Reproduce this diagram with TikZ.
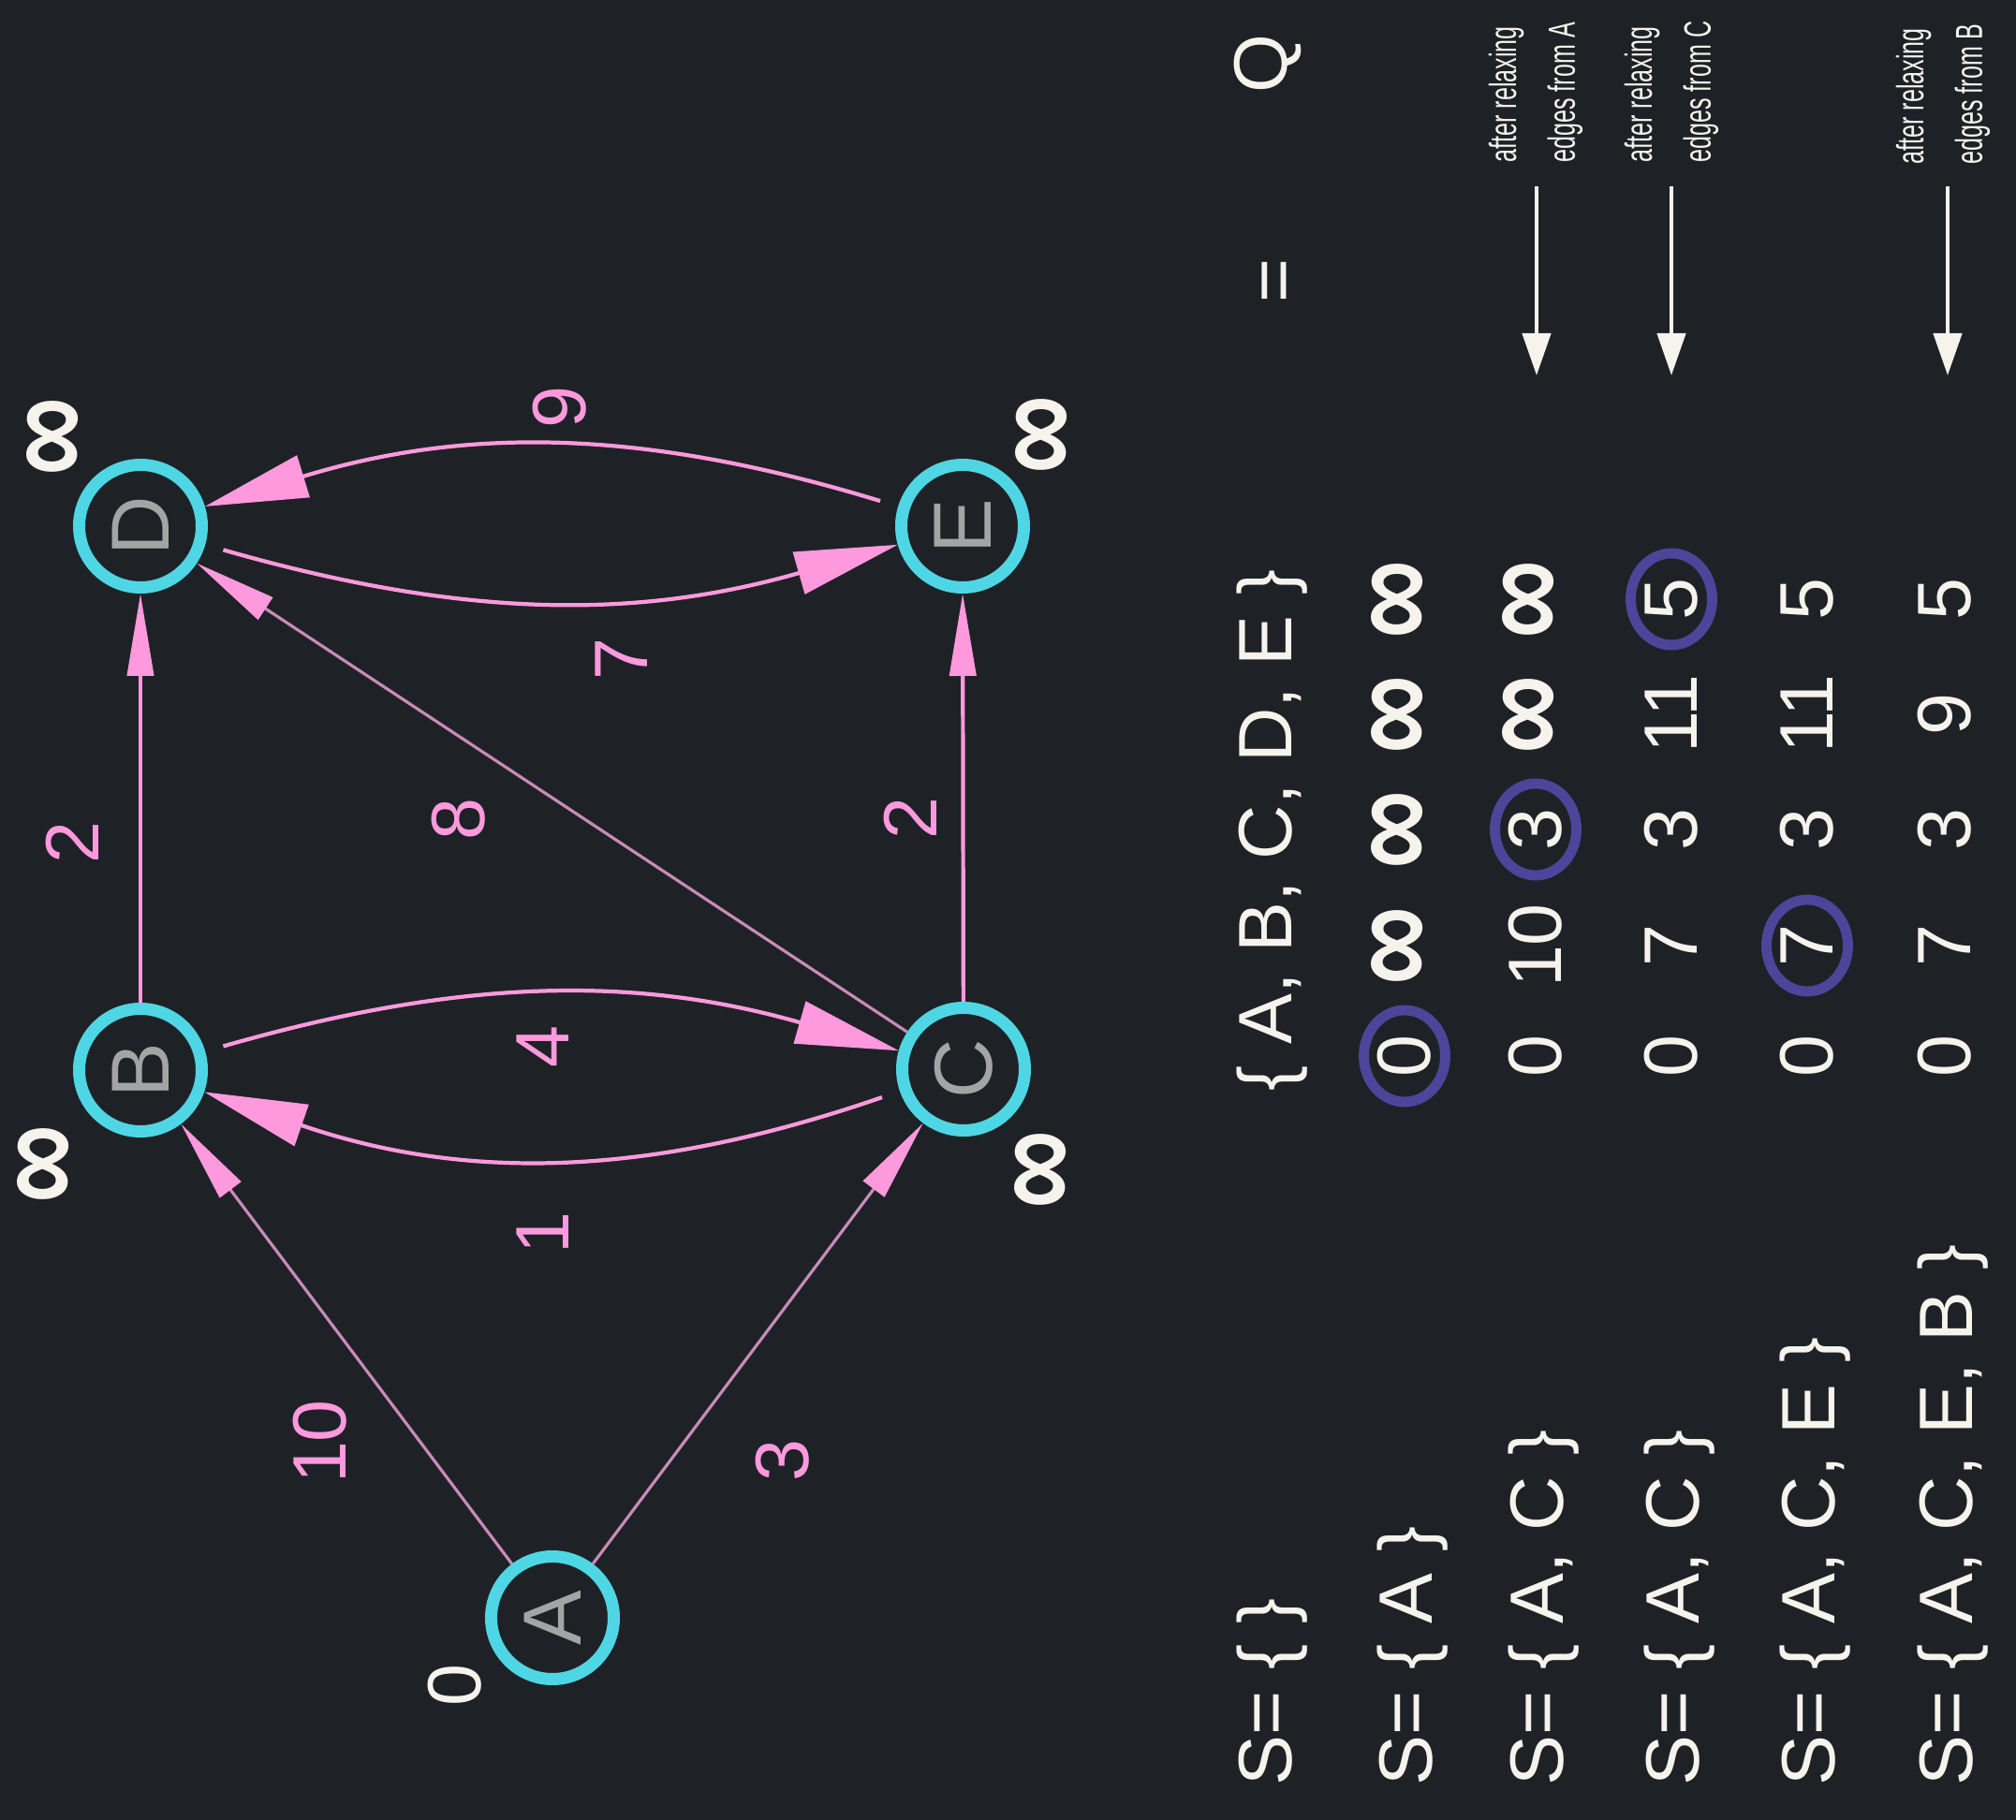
\documentclass[tikz,border=0pt]{standalone}
\usepackage{fontspec}
\usepackage{graphicx}
\usepackage{tikz}
\usetikzlibrary{arrows.meta,shapes.geometric}
\setmainfont{Liberation Sans}
\newfontfamily\narrowfont[FakeStretch=0.62]{Liberation Sans}
\definecolor{bgdark}{HTML}{1E2227}
\definecolor{ringcyan}{HTML}{4FD6E4}
\definecolor{edgepink}{HTML}{FF99DD}
\definecolor{dimpink}{HTML}{C98BB9}
\definecolor{pickpurple}{HTML}{4D4599}
\definecolor{cream}{HTML}{F5F3EB}
\definecolor{letgrey}{HTML}{A3A5A5}
\newcommand{\infsym}{\textbf{\scalebox{1.29}[1.65]{∞}}}

\begin{document}
\begin{tikzpicture}
	\tikzstyle{every node}+=[inner sep=0pt, rotate=90, text=cream, font=\fontsize{23}{27}\selectfont]
	\tikzstyle{vertex}=[circle, draw=ringcyan, line width=3.7pt, minimum size=1.31cm, text=letgrey, font=\fontsize{25}{29}\selectfont]
	\tikzstyle{dist}=[font=\fontsize{26}{30}\selectfont]
	\tikzstyle{wt}=[text=edgepink]
	\tikzstyle{link}=[draw=edgepink, line width=1.2pt, -{Triangle[length=0.88cm, width=0.28cm]}]
	\tikzstyle{bent}=[draw=edgepink, line width=1.2pt, shorten <=0.2cm, -{Triangle[length=1.1cm, width=0.46cm]}]
	\tikzstyle{faint}=[draw=dimpink, line width=0.9pt, -{Triangle[length=0.88cm, width=0.28cm, color=edgepink]}]
	\tikzstyle{picked}=[ellipse, draw=pickpurple, line width=3.1pt, minimum width=0.98cm, minimum height=0.87cm]
	\tikzstyle{setrow}=[anchor=base west]
	\tikzstyle{notetext}=[anchor=west, align=left, font=\narrowfont\fontsize{11.5}{17.9}\selectfont]
	\tikzstyle{relax}=[draw=cream, line width=1.3pt, -{Triangle[length=0.45cm, width=0.3cm]}]
	\fill[bgdark] (0,0) rectangle (21.53,-19.44);
	\useasboundingbox (0,0) rectangle (21.53,-19.44);
	\node[vertex] (A) at (5.90,-17.28) {A};
	\node[vertex] (B) at (1.50,-11.43) {B};
	\node[vertex] (C) at (10.29,-11.42) {C};
	\node[vertex] (D) at (1.50,-5.62) {D};
	\node[vertex] (E) at (10.28,-5.62) {E};
	\node (dA) at (4.86,-18.00) {0};
	\node[dist] (dB) at (0.54,-12.43) {\infsym};
	\node[dist] (dC) at (11.19,-12.49) {\infsym};
	\node[dist] (dD) at (0.64,-4.66) {\infsym};
	\node[dist] (dE) at (11.20,-4.64) {\infsym};
	\draw[faint] (A) -- (B);
	\draw[faint] (A) -- (C);
	\draw[faint] (C) -- (D);
	\draw[link] (B) -- (D);
	\draw[link] (C) -- (E);
	\draw[bent] (B) to[bend left=16] (C);
	\draw[bent] (C) to[bend left=19] (B);
	\draw[bent] (D) to[bend right=16] (E);
	\draw[bent] (E) to[bend right=17] (D);
	\node[wt] (wAB) at (3.42,-15.40) {10};
	\node[wt] (wAC) at (8.36,-15.60) {3};
	\node[wt] (wBC) at (5.80,-11.18) {4};
	\node[wt] (wCB) at (5.80,-13.17) {1};
	\node[wt] (wBD) at (0.77,-9.00) {2};
	\node[wt] (wCE) at (9.72,-8.74) {2};
	\node[wt] (wCD) at (4.90,-8.75) {8};
	\node[wt] (wDE) at (6.64,-7.04) {7};
	\node[wt] (wED) at (5.98,-4.35) {9};
	\node[setrow] (s0) at (13.79,-19.08) {S= \{ \}};
	\node[setrow] (qset) at (13.79,-11.66) {\{ A, B, C, D, E \}};
	\node (eq) at (13.68,-3.00) {=};
	\node[anchor=base] (qq) at (13.74,-0.68) {Q};
	\node[setrow] (s1) at (15.29,-19.08) {S= \{ A \}};
	\node[setrow] (s2) at (16.69,-19.08) {S= \{ A, C \}};
	\node[setrow] (s3) at (18.14,-19.08) {S= \{ A, C \}};
	\node[setrow] (s4) at (19.59,-19.08) {S= \{ A, C, E \}};
	\node[setrow] (s5) at (21.06,-19.08) {S= \{ A, C, E, B \}};
	\node[picked] (v11) at (15.00,-11.28) {0};
	\node[dist] (v12) at (15.00,-10.10) {\infsym};
	\node[dist] (v13) at (15.00,-8.86) {\infsym};
	\node[dist] (v14) at (15.00,-7.63) {\infsym};
	\node[dist] (v15) at (15.00,-6.40) {\infsym};
	\node (v21) at (16.40,-11.28) {0};
	\node (v22) at (16.40,-10.10) {10};
	\node[picked] (v23) at (16.40,-8.86) {3};
	\node[dist] (v24) at (16.40,-7.63) {\infsym};
	\node[dist] (v25) at (16.40,-6.40) {\infsym};
	\node (v31) at (17.85,-11.28) {0};
	\node (v32) at (17.85,-10.10) {7};
	\node (v33) at (17.85,-8.86) {3};
	\node (v34) at (17.85,-7.63) {11};
	\node[picked] (v35) at (17.85,-6.40) {5};
	\node (v41) at (19.30,-11.28) {0};
	\node[picked] (v42) at (19.30,-10.10) {7};
	\node (v43) at (19.30,-8.86) {3};
	\node (v44) at (19.30,-7.63) {11};
	\node (v45) at (19.30,-6.40) {5};
	\node (v51) at (20.77,-11.28) {0};
	\node (v52) at (20.77,-10.10) {7};
	\node (v53) at (20.77,-8.86) {3};
	\node (v54) at (20.77,-7.63) {9};
	\node (v55) at (20.77,-6.40) {5};
	\coordinate (t1) at (16.41,-1.99);
	\coordinate (h1) at (16.41,-4.01);
	\coordinate (t2) at (17.85,-1.99);
	\coordinate (h2) at (17.85,-4.01);
	\coordinate (t3) at (20.80,-1.99);
	\coordinate (h3) at (20.80,-4.01);
	\draw[relax] (t1) -- (h1);
	\draw[relax] (t2) -- (h2);
	\draw[relax] (t3) -- (h3);
	\node[notetext] (n1) at (16.40,-1.74) {after relaxing\\edges from A};
	\node[notetext] (n2) at (17.85,-1.74) {after relaxing\\edges from C};
	\node[notetext] (n3) at (20.75,-1.76) {after relaxing\\edges from B};
\end{tikzpicture}
\end{document}
